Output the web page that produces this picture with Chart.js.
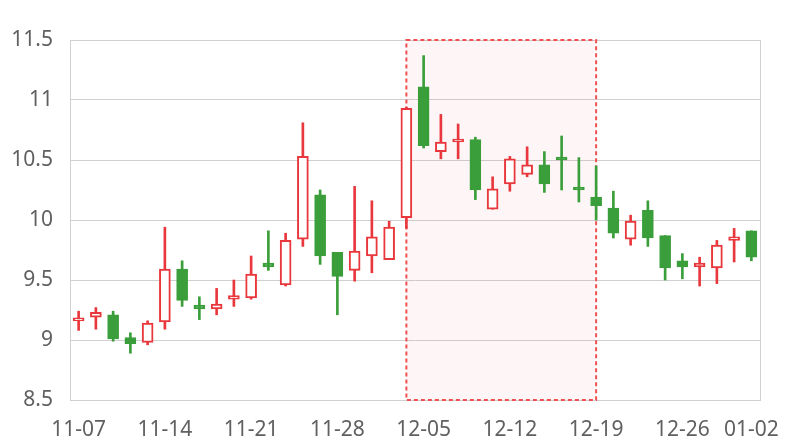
<!DOCTYPE html>
<html>
<head>
<meta charset="utf-8">
<script src="https://cdn.jsdelivr.net/npm/chart.js@4/dist/chart.umd.min.js"></script>
<style>
  html, body { margin: 0; padding: 0; background: #fff; }
  #wrap { width: 800px; height: 440px; }
</style>
</head>
<body>
<div id="wrap"><canvas id="kline"></canvas></div>
<script>
// trading days
const dates = [
  '11-07', '11-08', '11-09', '11-10', '11-11',
  '11-14', '11-15', '11-16', '11-17', '11-18',
  '11-21', '11-22', '11-23', '11-24', '11-25',
  '11-28', '11-29', '11-30', '12-01', '12-02',
  '12-05', '12-06', '12-07', '12-08', '12-09',
  '12-12', '12-13', '12-14', '12-15', '12-16',
  '12-19', '12-20', '12-21', '12-22', '12-23',
  '12-26', '12-27', '12-28', '12-29', '01-02',
]
const opens = [
  9.16, 9.19, 9.21, 9.02, 8.98, 9.15, 9.59, 9.29, 9.26, 9.34,
  9.35, 9.64, 9.46, 9.84, 10.21, 9.73, 9.58, 9.70, 9.67, 10.02,
  11.11, 10.57, 10.65, 10.67, 10.09, 10.30, 10.38, 10.46, 10.51, 10.26,
  10.19, 10.10, 9.84, 10.08, 9.87, 9.66, 9.61, 9.60, 9.83, 9.91,
]
const highs = [
  9.24, 9.27, 9.24, 9.06, 9.16, 9.94, 9.66, 9.36, 9.43, 9.50,
  9.70, 9.91, 9.89, 10.81, 10.25, 9.73, 10.28, 10.16, 9.99, 10.94,
  11.37, 10.88, 10.80, 10.69, 10.36, 10.53, 10.61, 10.57, 10.70, 10.52,
  10.45, 10.24, 10.04, 10.16, 9.87, 9.72, 9.69, 9.83, 9.93, 9.91,
]
const lows = [
  9.08, 9.09, 8.99, 8.89, 8.96, 9.09, 9.28, 9.17, 9.21, 9.28,
  9.34, 9.58, 9.45, 9.78, 9.63, 9.21, 9.49, 9.56, 9.67, 9.93,
  10.60, 10.51, 10.51, 10.17, 10.09, 10.24, 10.36, 10.23, 10.25, 10.15,
  10.00, 9.85, 9.79, 9.78, 9.50, 9.51, 9.45, 9.47, 9.65, 9.66,
]
const closes = [
  9.17, 9.23, 9.01, 8.97, 9.14, 9.59, 9.33, 9.26, 9.30, 9.37,
  9.55, 9.61, 9.83, 10.53, 9.70, 9.53, 9.74, 9.86, 9.94, 10.93,
  10.62, 10.65, 10.66, 10.25, 10.26, 10.51, 10.46, 10.30, 10.50, 10.25,
  10.12, 9.89, 9.99, 9.85, 9.60, 9.61, 9.64, 9.79, 9.86, 9.69,
]
const yTicks = [8.5, 9, 9.5, 10, 10.5, 11, 11.5]
const shownDates = ['11-07', '11-14', '11-21', '11-28', '12-05', '12-12', '12-19', '12-26', '01-02']
const highlightFrom = '12-02'
const highlightTo = '12-19'

const upColor = '#e8383d'
const downColor = '#3a9e3a'
const isUp = opens.map((o, i) => closes[i] >= o)
const candleColor = isUp.map(up => (up ? upColor : downColor))

const bodies = opens.map((o, i) => [Math.min(o, closes[i]), Math.max(o, closes[i])])
const wicks = lows.map((l, i) => [l, highs[i]])

// shaded box + right border of the plot
const highlightBox = {
  id: 'highlightBox',
  beforeDatasetsDraw(chart) {
    const { ctx, chartArea, scales } = chart
    const x0 = scales.x.getPixelForValue(dates.indexOf(highlightFrom))
    const x1 = scales.x.getPixelForValue(dates.indexOf(highlightTo))
    const y0 = scales.y.getPixelForValue(11.5)
    const y1 = scales.y.getPixelForValue(8.5)
    ctx.save()
    ctx.strokeStyle = '#d0d0d0'
    ctx.lineWidth = 1
    ctx.beginPath()
    ctx.moveTo(chartArea.right + 0.5, chartArea.top)
    ctx.lineTo(chartArea.right + 0.5, chartArea.bottom)
    ctx.stroke()
    ctx.fillStyle = 'rgba(240, 80, 80, 0.05)'
    ctx.fillRect(x0, y0, x1 - x0, y1 - y0)
    ctx.strokeStyle = '#f05050'
    ctx.lineWidth = 2
    ctx.setLineDash([4, 3])
    ctx.strokeRect(x0, y0, x1 - x0, y1 - y0)
    ctx.restore()
  },
}

new Chart(document.getElementById('kline'), {
  type: 'bar',
  data: {
    labels: dates,
    datasets: [
      {
        data: bodies,
        backgroundColor: isUp.map(up => (up ? '#ffffff' : downColor)),
        borderColor: candleColor,
        borderWidth: 2,
        borderSkipped: false,
        barThickness: 11,
        minBarLength: 3,
        grouped: false,
      },
      {
        data: wicks,
        backgroundColor: candleColor,
        borderWidth: 0,
        barThickness: 2,
        grouped: false,
      },
    ],
  },
  options: {
    responsive: true,
    maintainAspectRatio: false,
    animation: false,
    layout: { padding: { top: 40, right: 40, left: 0, bottom: 0 } },
    plugins: {
      legend: { display: false },
      tooltip: { enabled: false },
    },
    scales: {
      x: {
        grid: { display: false },
        border: { color: '#d0d0d0' },
        afterFit: scale => { scale.height = 40 },
        ticks: {
          autoSkip: false,
          maxRotation: 0,
          padding: 9,
          color: '#606060',
          font: { family: 'Noto Sans', size: 21 },
          callback(val) {
            const d = this.getLabelForValue(val)
            return shownDates.includes(d) ? d : ''
          },
        },
      },
      y: {
        min: 8.5,
        max: 11.5,
        afterFit: scale => { scale.width = 70 },
        afterBuildTicks: scale => { scale.ticks = yTicks.map(v => ({ value: v })) },
        grid: { color: '#d0d0d0', drawTicks: false },
        border: { color: '#d0d0d0' },
        ticks: {
          padding: 17,
          color: '#606060',
          font: { family: 'Noto Sans', size: 21 },
          callback: v => String(v),
        },
      },
    },
  },
  plugins: [highlightBox],
})
</script>
</body>
</html>
